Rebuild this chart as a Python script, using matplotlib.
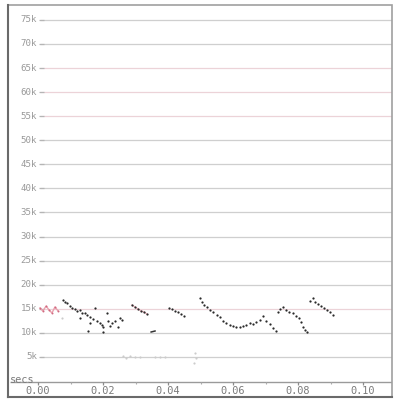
import matplotlib
matplotlib.use("Agg")
import matplotlib.pyplot as plt
from matplotlib.patches import Rectangle

# Frequency grid (Hz) and labels
grid_levels = [5000, 10000, 15000, 20000, 25000, 30000, 35000, 40000,
               45000, 50000, 55000, 60000, 65000, 70000, 75000]
grid_labels = ["5k", "10k", "15k", "20k", "25k", "30k", "35k", "40k",
               "45k", "50k", "55k", "60k", "65k", "70k", "75k"]
pink_levels = [15000, 55000, 60000, 65000]

# Time ticks (s)
x_major = [0.00, 0.02, 0.04, 0.06, 0.08, 0.10]
x_major_labels = ["0.00", "0.02", "0.04", "0.06", "0.08", "0.10"]
x_minor = [0.01, 0.03, 0.05, 0.07, 0.09]

# Call tracks: time (s), frequency (Hz)
pink_t = [0.0006, 0.0015, 0.0025, 0.0034, 0.0043, 0.0052, 0.0062]
pink_f = [15162, 14539, 15578, 14747, 14124, 15370, 14539]

track_b_t = [0.0077, 0.0083, 0.0089, 0.0098, 0.0105, 0.0114, 0.0120, 0.0129,
             0.0135, 0.0145, 0.0151, 0.0160, 0.0169, 0.0175, 0.0182, 0.0191,
             0.0197, 0.0200, 0.0212, 0.0215, 0.0222, 0.0228, 0.0237, 0.0246,
             0.0252, 0.0258, 0.0154, 0.0200, 0.0160, 0.0129]
track_b_f = [16824, 16408, 16201, 15578, 15162, 14954, 14539, 14747,
             14124, 14124, 13708, 13293, 12877, 15162, 12462, 12047,
             11631, 11216, 14124, 12462, 11424, 12047, 12462, 11216,
             13085, 12670, 10385, 10177, 12047, 13085]

track_c_t = [0.0289, 0.0298, 0.0308, 0.0317, 0.0326, 0.0335]
track_c_f = [15785, 15370, 14954, 14539, 14331, 13916]

dash_t = [0.0348, 0.0354, 0.0360]
dash_f = [10177, 10280, 10385]

track_d_t = [0.0403, 0.0412, 0.0422, 0.0431, 0.0440, 0.0449]
track_d_f = [15162, 14954, 14539, 14331, 13916, 13500]

track_e_t = [0.0498, 0.0505, 0.0511, 0.0520, 0.0529, 0.0538, 0.0551, 0.0560,
             0.0569, 0.0578, 0.0591, 0.0600, 0.0609, 0.0622, 0.0631, 0.0640,
             0.0652, 0.0662, 0.0671, 0.0683, 0.0692, 0.0702, 0.0714, 0.0723,
             0.0732, 0.0738, 0.0745, 0.0754, 0.0763, 0.0772, 0.0785, 0.0794,
             0.0803, 0.0809, 0.0815, 0.0822, 0.0828]
track_e_f = [17239, 16408, 15785, 15370, 14747, 14331, 13708, 13293,
             12462, 12047, 11631, 11424, 11216, 11216, 11424, 11631,
             12047, 11839, 12254, 12670, 13500, 12462, 11839, 11008,
             10385, 14331, 14954, 15370, 14747, 14331, 14124, 13500,
             13085, 12254, 11216, 10593, 10177]

track_f_t = [0.0837, 0.0846, 0.0852, 0.0862, 0.0871, 0.0880, 0.0889, 0.0898, 0.0908]
track_f_f = [16616, 17239, 16408, 15993, 15578, 15162, 14747, 14331, 13708]

faint_t = [0.0074, 0.0262, 0.0271, 0.0283, 0.0298, 0.0314, 0.0360, 0.0375,
           0.0391, 0.0483, 0.0486, 0.0480]
faint_f = [13085, 5193, 4777, 5193, 4985, 4985, 4985, 4985,
           4985, 5816, 4777, 3739]

W, H = 394, 401
fig = plt.figure(figsize=(W / 100, H / 100), dpi=100)
fig.patch.set_facecolor("white")

# Plot area spans the inner frame
left, right, top, bottom = 8, 392, 5, 397
ax = fig.add_axes([left / W, 1 - bottom / H, (right - left) / W, (bottom - top) / H])
ax.set_xlim(-0.00923, 0.1089)
ax.set_ylim(-3323, 78100)
ax.axis("off")

ylab_font = dict(family="DejaVu Sans Mono", fontsize=6.6, color="#999999")
xlab_font = dict(family="DejaVu Sans Mono", fontsize=7.4, color="#7a7a7a")

# Horizontal frequency grid
for lvl, lab in zip(grid_levels, grid_labels):
    col = "#ecd3d8" if lvl in pink_levels else "#cfcfcf"
    ax.hlines(lvl, 0.0006, 0.1089, colors=col, lw=0.9, zorder=1)
    ax.hlines(lvl, 0.0003, 0.0018, colors="#b5b5b5", lw=0.9, zorder=1)
    ax.annotate(lab, (0.0002, lvl), xytext=(-1, 0), textcoords="offset points",
                ha="right", va="center", **ylab_font)

# Time axis
ax.hlines(-300, -0.0087, 0.1089, colors="#9a9a9a", lw=1.0, zorder=2)
for t in x_major:
    ax.vlines(t, -900, -300, colors="#8a8a8a", lw=0.9)
for t in x_minor:
    ax.vlines(t, -600, -300, colors="#aaaaaa", lw=0.8)
for t, lab in zip(x_major, x_major_labels):
    ax.annotate(lab, (t, -300), xytext=(0, -6), textcoords="offset points",
                ha="center", va="center", **xlab_font)
ax.annotate("secs", (-0.0087, -300), xytext=(0, 1.8), textcoords="offset points",
            ha="left", va="center", **xlab_font)

# Call tracks
ax.plot(pink_t, pink_f, color="#eaa0ae", lw=1.0, zorder=3)
ax.scatter(pink_t, pink_f, s=2.0, color="#d06a80", lw=0, zorder=4)
ax.scatter(faint_t, faint_f, s=2.5, color="#cccccc", lw=0, zorder=3)
ax.plot(track_c_t, track_c_f, color="#edb4be", lw=1.0, zorder=3)
for tt, ff in [(track_b_t, track_b_f), (track_c_t, track_c_f), (track_d_t, track_d_f),
               (track_e_t, track_e_f), (track_f_t, track_f_f)]:
    ax.scatter(tt, ff, s=2.6, color="#2a2a2a", lw=0, zorder=5)
ax.plot(dash_t, dash_f, color="#333333", lw=1.1, zorder=5)

# Outer frame
fig.patches.append(Rectangle((left / W, 1 - bottom / H), (right - left) / W,
                             (bottom - top) / H, transform=fig.transFigure,
                             fill=False, edgecolor="#a0a0a0", lw=1.2))
fig.lines.append(plt.Line2D([left / W, left / W], [1 - bottom / H, 1 - top / H],
                            transform=fig.transFigure, color="#6a6a6a", lw=1.5))
fig.lines.append(plt.Line2D([left / W, right / W], [1 - bottom / H, 1 - bottom / H],
                            transform=fig.transFigure, color="#6a6a6a", lw=1.5))

fig.savefig("out.png", dpi=100)
